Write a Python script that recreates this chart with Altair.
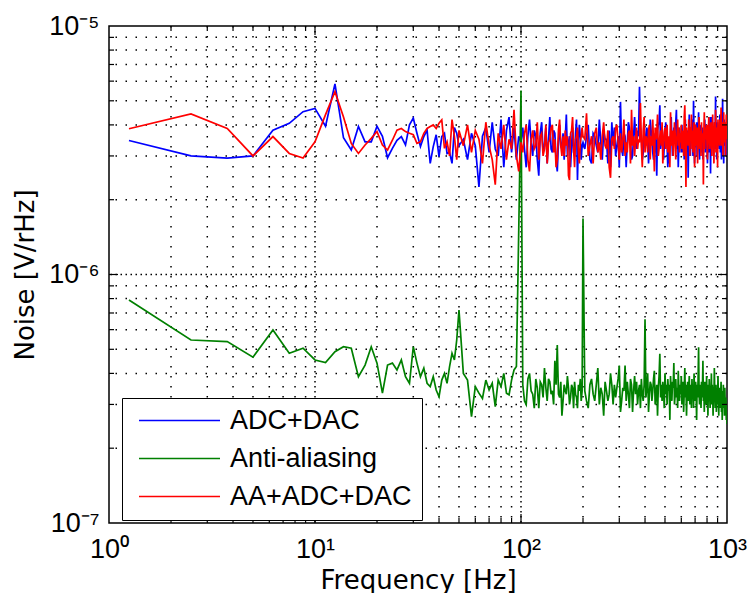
import altair as alt
import numpy as np
import pandas as pd

# ---------------- data ----------------
# FFT frequency grid [Hz] (uniform bins, coarser steps at high frequency)
FREQ = np.round(np.concatenate([
    np.arange(1, 41) * 1.25,          # 1.25 .. 50
    50 + np.arange(1, 21) * 2.5,      # 52.5 .. 100
    100 + np.arange(1, 51) * 2.0,     # 102 .. 200
    200 + np.arange(1, 201) * 4.0,    # 204 .. 1000
]), 2)

SERIES_NAMES = ["ADC+DAC", "Anti-aliasing", "AA+ADC+DAC"]
SERIES_COLORS = ["#0000ff", "#008000", "#ff0000"]

# noise values in units of 1e-6 V/rHz
ADC_DAC = [
    # 1.25 .. 50 Hz
    3.46, 3.00, 2.94, 3.00, 3.81, 4.06, 4.52, 4.66, 3.95, 5.85,
    3.55, 3.17, 3.94, 3.42, 3.42, 3.95, 3.60, 2.95, 3.22, 3.47,
    3.59, 3.32, 4.00, 4.26, 3.70, 3.27, 3.59, 3.81, 2.80, 3.27,
    3.65, 2.98, 3.59, 3.70, 3.07, 3.10, 2.80, 3.90, 3.70, 3.30,
    # 52.5 .. 100 Hz
    3.5, 2.9, 3.7, 3.3, 2.25, 3.6, 3.9, 3.1, 4.1, 3.2,
    3.0, 4.2, 2.7, 3.8, 4.3, 3.1, 3.9, 2.9, 3.6, 3.4,
    # 102 .. 200 Hz
    3.9, 3.2, 2.7, 3.6, 4.2, 3.4, 3.0, 3.8, 3.6, 2.9,
    2.5, 3.7, 4.1, 3.1, 3.3, 3.9, 2.8, 3.5, 4.3, 3.2,
    3.1, 3.8, 3.7, 2.9, 2.6, 3.4, 4.0, 3.3, 3.2, 3.7,
    2.9, 3.5, 4.4, 3.0, 3.4, 3.6, 2.7, 3.3, 3.9, 3.1,
    3.0, 3.7, 4.2, 2.4, 3.5, 4.0, 3.6, 2.9, 3.3, 3.4,
    # 204 .. 1000 Hz
    3.2, 3.6, 4.0, 2.9, 2.8, 3.7, 3.6, 3.3, 3.1, 4.2,
    3.4, 2.9, 3.8, 3.5, 3.5, 2.8, 3.8, 2.7, 4.1, 3.3,
    3.9, 3.0, 3.3, 3.6, 2.7, 4.95, 3.2, 3.0, 3.7, 3.6,
    2.7, 3.4, 4.1, 3.9, 3.4, 2.9, 3.0, 3.6, 4.3, 3.5,
    3.2, 3.8, 3.6, 5.7, 3.9, 3.6, 2.9, 3.1, 4.0, 3.5,
    3.3, 3.9, 3.7, 2.8, 3.2, 4.2, 3.8, 3.5, 3.1, 2.9,
    3.1, 3.7, 3.3, 2.5, 3.8, 4.0, 4.1, 4.8, 3.2, 3.4,
    3.9, 3.6, 2.9, 3.3, 3.6, 4.1, 3.7, 3.3, 2.7, 3.5,
    2.8, 3.4, 3.7, 4.3, 3.5, 3.0, 3.3, 3.9, 3.5, 4.0,
    4.1, 4.6, 3.2, 3.7, 2.7, 3.4, 3.9, 3.5, 3.4, 3.1,
    4.0, 3.5, 3.1, 3.6, 2.9, 3.8, 4.2, 3.0, 3.3, 3.7,
    3.8, 2.45, 3.5, 4.4, 3.3, 3.0, 3.9, 3.6, 4.2, 3.4,
    3.0, 5.0, 3.4, 2.8, 3.9, 3.7, 3.5, 4.1, 3.0, 3.6,
    3.7, 4.5, 3.2, 2.9, 3.6, 3.8, 4.0, 3.4, 3.1, 3.9,
    2.9, 3.8, 3.5, 3.4, 4.2, 3.1, 3.6, 3.8, 4.0, 3.3,
    2.8, 3.5, 3.9, 3.6, 3.1, 3.7, 4.3, 2.55, 3.7, 3.2,
    4.3, 3.4, 3.3, 3.9, 3.0, 3.6, 4.1, 3.5, 3.2, 5.2,
    3.5, 3.8, 2.9, 3.6, 4.1, 3.3, 3.6, 3.9, 3.2, 4.0,
    4.4, 3.1, 3.5, 3.8, 2.9, 3.4, 3.7, 5.1, 3.4, 3.6,
    2.8, 4.2, 3.9, 3.6, 3.3, 4.0, 3.6, 3.9, 3.0, 3.3,
]

ANTI_ALIASING = [
    # 1.25 .. 50 Hz
    0.79, 0.545, 0.537, 0.465, 0.598, 0.482, 0.505, 0.453, 0.442, 0.489,
    0.512, 0.505, 0.388, 0.432, 0.512, 0.44, 0.333, 0.432, 0.44, 0.413,
    0.453, 0.388, 0.365, 0.512, 0.44, 0.388, 0.42, 0.365, 0.354, 0.388,
    0.343, 0.322, 0.376, 0.40, 0.365, 0.426, 0.482, 0.453, 0.545, 0.719,
    # 52.5 .. 100 Hz
    0.40, 0.376, 0.268, 0.354, 0.333, 0.317, 0.376, 0.343, 0.365, 0.294,
    0.376, 0.354, 0.40, 0.333, 0.328, 0.376, 0.413, 0.426, 1.5, 5.5,
    # 102 .. 200 Hz
    0.36, 0.31, 0.30, 0.38, 0.40, 0.34, 0.33, 0.29, 0.38, 0.35,
    0.29, 0.37, 0.36, 0.32, 0.42, 0.35, 0.31, 0.38, 0.37, 0.33,
    0.34, 0.30, 0.45, 0.36, 0.52, 0.33, 0.32, 0.37, 0.27, 0.31,
    0.36, 0.34, 0.33, 0.39, 0.35, 0.30, 0.32, 0.36, 0.35, 0.29,
    0.37, 0.33, 0.32, 0.29, 0.36, 0.34, 0.38, 0.31, 0.34, 1.68,
    # 204 .. 1000 Hz
    0.34, 0.31, 0.29, 0.36, 0.38, 0.33, 0.31, 0.36, 0.42, 0.30,
    0.35, 0.33, 0.27, 0.37, 0.34, 0.31, 0.33, 0.40, 0.36, 0.30,
    0.36, 0.32, 0.35, 0.38, 0.43, 0.28, 0.31, 0.35, 0.34, 0.43,
    0.31, 0.37, 0.33, 0.29, 0.38, 0.36, 0.28, 0.34, 0.39, 0.33,
    0.37, 0.30, 0.34, 0.36, 0.29, 0.38, 0.33, 0.31, 0.36, 0.66,
    0.32, 0.35, 0.40, 0.28, 0.33, 0.37, 0.36, 0.31, 0.34, 0.38,
    0.41, 0.30, 0.33, 0.36, 0.27, 0.35, 0.39, 0.48, 0.32, 0.36,
    0.31, 0.37, 0.34, 0.29, 0.40, 0.33, 0.36, 0.30, 0.38, 0.34,
    0.36, 0.26, 0.39, 0.33, 0.31, 0.37, 0.35, 0.44, 0.30, 0.33,
    0.38, 0.32, 0.35, 0.29, 0.41, 0.34, 0.31, 0.36, 0.33, 0.39,
    0.30, 0.35, 0.37, 0.28, 0.34, 0.42, 0.32, 0.36, 0.27, 0.33,
    0.37, 0.31, 0.35, 0.39, 0.30, 0.34, 0.36, 0.29, 0.38, 0.33,
    0.35, 0.29, 0.40, 0.33, 0.31, 0.37, 0.34, 0.26, 0.36, 0.32,
    0.38, 0.51, 0.33, 0.30, 0.36, 0.34, 0.29, 0.37, 0.32, 0.35,
    0.45, 0.31, 0.34, 0.28, 0.37, 0.33, 0.36, 0.30, 0.39, 0.32,
    0.34, 0.27, 0.36, 0.31, 0.38, 0.33, 0.29, 0.35, 0.32, 0.40,
    0.30, 0.36, 0.33, 0.27, 0.35, 0.31, 0.42, 0.34, 0.29, 0.33,
    0.36, 0.28, 0.32, 0.35, 0.30, 0.39, 0.33, 0.27, 0.34, 0.31,
    0.35, 0.29, 0.33, 0.37, 0.28, 0.32, 0.26, 0.34, 0.30, 0.36,
    0.29, 0.33, 0.27, 0.35, 0.30, 0.28, 0.32, 0.26, 0.29, 0.25,
]

AA_ADC_DAC = [
    # 1.25 .. 50 Hz
    3.86, 4.43, 3.87, 3.00, 3.59, 3.07, 2.94, 3.42, 4.40, 5.44,
    4.30, 3.37, 3.07, 3.32, 3.53, 3.76, 3.32, 3.17, 3.47, 3.81,
    3.87, 3.76, 3.70, 3.65, 3.37, 3.42, 3.70, 3.87, 3.94, 4.00,
    3.87, 4.06, 4.19, 3.22, 3.42, 3.00, 4.20, 3.60, 2.90, 3.80,
    # 52.5 .. 100 Hz
    3.3, 4.0, 3.1, 3.8, 3.5, 2.8, 4.1, 3.3, 2.9, 2.3,
    3.7, 3.2, 4.0, 2.9, 3.5, 3.2, 4.6, 3.0, 2.6, 3.4,
    # 102 .. 200 Hz
    3.1, 3.7, 4.0, 2.9, 2.6, 3.5, 3.8, 3.2, 3.3, 4.1,
    2.9, 3.6, 3.7, 3.0, 3.2, 4.0, 2.8, 3.4, 3.5, 3.9,
    4.0, 3.1, 3.5, 2.7, 2.9, 3.8, 4.2, 3.3, 3.0, 3.6,
    3.0, 3.8, 3.3, 3.6, 2.5, 2.4, 3.7, 3.8, 4.3, 3.2,
    2.7, 3.5, 3.6, 3.9, 3.1, 2.8, 3.4, 3.6, 3.9, 3.6,
    # 204 .. 1000 Hz
    3.5, 4.45, 3.0, 3.3, 3.6, 2.8, 3.7, 3.9, 3.1, 3.4,
    2.9, 3.6, 4.1, 3.3, 3.2, 3.8, 2.7, 2.45, 3.5, 3.6,
    3.2, 3.9, 4.0, 3.4, 2.9, 3.7, 3.1, 3.5, 4.2, 3.0,
    3.4, 3.1, 3.7, 3.8, 2.8, 4.6, 3.3, 3.6, 3.0, 3.5,
    3.9, 3.2, 3.5, 3.4, 4.9, 3.3, 2.7, 3.8, 4.3, 3.1,
    3.6, 3.5, 3.1, 3.8, 4.0, 2.9, 3.6, 3.3, 4.2, 3.4,
    2.6, 3.9, 3.5, 3.7, 4.4, 3.0, 3.2, 3.6, 3.8, 3.3,
    4.1, 2.8, 3.4, 3.7, 3.9, 3.2, 3.5, 4.0, 3.1, 3.6,
    3.4, 2.7, 4.5, 3.6, 3.3, 3.8, 3.0, 3.5, 4.1, 3.7,
    2.9, 3.5, 3.6, 4.2, 3.3, 3.9, 3.1, 3.7, 3.4, 4.0,
    3.2, 3.8, 3.5, 3.0, 4.3, 4.8, 3.6, 2.25, 3.9, 3.4,
    3.7, 3.3, 4.2, 3.5, 3.0, 3.9, 3.6, 4.4, 3.2, 3.8,
    3.1, 3.6, 4.1, 2.7, 3.5, 4.0, 3.7, 3.3, 3.9, 2.8,
    3.9, 3.5, 4.3, 3.2, 3.6, 3.8, 3.0, 4.1, 3.4, 3.7,
    3.6, 2.3, 3.7, 4.5, 3.2, 3.9, 3.5, 3.6, 4.0, 3.3,
    2.9, 4.0, 3.8, 4.3, 3.5, 3.2, 3.7, 3.8, 4.1, 3.4,
    3.0, 3.6, 4.4, 3.5, 3.9, 2.8, 3.7, 4.1, 3.4, 4.6,
    3.1, 3.8, 3.6, 3.9, 2.7, 4.2, 3.5, 3.7, 4.0, 3.3,
    4.2, 3.6, 3.9, 4.7, 3.3, 3.8, 3.5, 4.1, 3.0, 3.7,
    4.5, 3.4, 3.9, 3.6, 4.1, 3.0, 3.8, 4.4, 3.6, 3.5,
]

# axis tick positions
X_MAJOR = [1, 10, 100, 1000]
X_MINOR = [2, 3, 4, 5, 6, 7, 8, 9, 20, 30, 40, 50, 60, 70, 80, 90,
           200, 300, 400, 500, 600, 700, 800, 900]
X_MAJOR_INNER = [10, 100]
Y_MAJOR = [1e-7, 1e-6, 1e-5]
Y_MINOR = [2e-7, 3e-7, 4e-7, 5e-7, 6e-7, 7e-7, 8e-7, 9e-7,
           2e-6, 3e-6, 4e-6, 5e-6, 6e-6, 7e-6, 8e-6, 9e-6]
Y_MAJOR_INNER = [1e-6]

# ---------------- table ----------------
rows = []
for name, vals in zip(SERIES_NAMES, [ADC_DAC, ANTI_ALIASING, AA_ADC_DAC]):
    assert len(vals) == len(FREQ), (name, len(vals), len(FREQ))
    for f, v in zip(FREQ, vals):
        rows.append({"series": name, "freq": float(f), "noise": v * 1e-6})
df = pd.DataFrame(rows)

W, H = 618, 497
TITLE_FONT = "DejaVu Sans"
LABEL_FONT = "Liberation Sans"

x_scale = alt.Scale(type="log", domain=[1, 1000], nice=False)
y_scale = alt.Scale(type="log", domain=[1e-7, 1e-5], nice=False)

x_axis = alt.Axis(
    values=X_MAJOR,
    labelExpr="datum.value < 5 ? '10⁰' : datum.value < 50 ? '10¹' : datum.value < 500 ? '10²' : '10³'",
    grid=False, ticks=False, domain=False, labelFlush=False, labelOverlap=False,
    labelFont=LABEL_FONT, labelFontSize=27, labelColor="black", labelPadding=13,
    title="Frequency [Hz]", titleFont=TITLE_FONT, titleFontSize=26, titleFontWeight="normal",
    titleColor="black", titleX=W / 2, titleY=57, titleBaseline="middle",
)
y_axis = alt.Axis(
    values=Y_MAJOR,
    labelExpr="datum.value < 5e-7 ? '10⁻⁷' : datum.value < 5e-6 ? '10⁻⁶' : '10⁻⁵'",
    grid=False, ticks=False, domain=False, labelOverlap=False,
    labelFont=LABEL_FONT, labelFontSize=27, labelColor="black", labelPadding=10,
    title="Noise [V/rHz]", titleFont=TITLE_FONT, titleFontSize=26, titleFontWeight="normal",
    titleColor="black", titleX=-84, titleY=H / 2, titleBaseline="middle",
)

color = alt.Color(
    "series:N",
    scale=alt.Scale(domain=SERIES_NAMES, range=SERIES_COLORS),
    legend=alt.Legend(
        title=None, orient="none", legendX=13, legendY=372,
        symbolType="stroke", symbolSize=6561, symbolStrokeWidth=1.7,
        clipHeight=25, rowPadding=10, padding=10, symbolOffset=6, labelOffset=9,
        labelFont=LABEL_FONT, labelFontSize=27, labelColor="black", labelLimit=400,
        strokeColor="black", fillColor="white", cornerRadius=0,
    ),
)

X_ENC = dict(scale=x_scale, axis=x_axis)
Y_ENC = dict(scale=y_scale, axis=y_axis)


def line_layer(name):
    return (
        alt.Chart(df)
        .transform_filter(alt.datum.series == name)
        .mark_line(strokeWidth=1.7, clip=True)
        .encode(
            x=alt.X("freq:Q", **X_ENC),
            y=alt.Y("noise:Q", **Y_ENC),
            color=color,
        )
    )


def vgrid(vals, dash):
    return alt.Chart(pd.DataFrame({"freq": vals})).mark_rule(
        color="black", strokeWidth=1.5, strokeDash=dash
    ).encode(x=alt.X("freq:Q", **X_ENC))


def hgrid(vals, dash):
    return alt.Chart(pd.DataFrame({"noise": vals})).mark_rule(
        color="black", strokeWidth=1.5, strokeDash=dash
    ).encode(y=alt.Y("noise:Q", **Y_ENC))


def xticks(vals, length):
    d = pd.DataFrame({"freq": vals})
    bottom = alt.Chart(d).mark_rule(color="black", strokeWidth=1.2).encode(
        x=alt.X("freq:Q", **X_ENC), y=alt.value(H), y2=alt.value(H - length))
    top = alt.Chart(d).mark_rule(color="black", strokeWidth=1.2).encode(
        x=alt.X("freq:Q", **X_ENC), y=alt.value(0), y2=alt.value(length))
    return [bottom, top]


def yticks(vals, length):
    d = pd.DataFrame({"noise": vals})
    left = alt.Chart(d).mark_rule(color="black", strokeWidth=1.2).encode(
        y=alt.Y("noise:Q", **Y_ENC), x=alt.value(0), x2=alt.value(length))
    right = alt.Chart(d).mark_rule(color="black", strokeWidth=1.2).encode(
        y=alt.Y("noise:Q", **Y_ENC), x=alt.value(W), x2=alt.value(W - length))
    return [left, right]


layers = [
    vgrid(X_MINOR, [1.5, 8.5]),
    vgrid(X_MAJOR_INNER, [1.5, 3.5]),
    hgrid(Y_MINOR, [1.5, 8.5]),
    hgrid(Y_MAJOR_INNER, [1.5, 3.5]),
]
layers += [line_layer(n) for n in SERIES_NAMES]
layers += xticks(X_MINOR, 5) + xticks(X_MAJOR_INNER, 9)
layers += yticks(Y_MINOR, 5) + yticks(Y_MAJOR_INNER, 9)

chart = (
    alt.layer(*layers)
    .properties(
        width=W, height=H,
        autosize=alt.AutoSizeParams(type="none"),
        padding={"left": 101, "top": 18, "right": 21, "bottom": 70},
        background="white",
    )
    .configure_view(stroke="black", strokeWidth=1.5)
)

chart.save("out.html", embed_options={"renderer": "svg", "actions": False})
